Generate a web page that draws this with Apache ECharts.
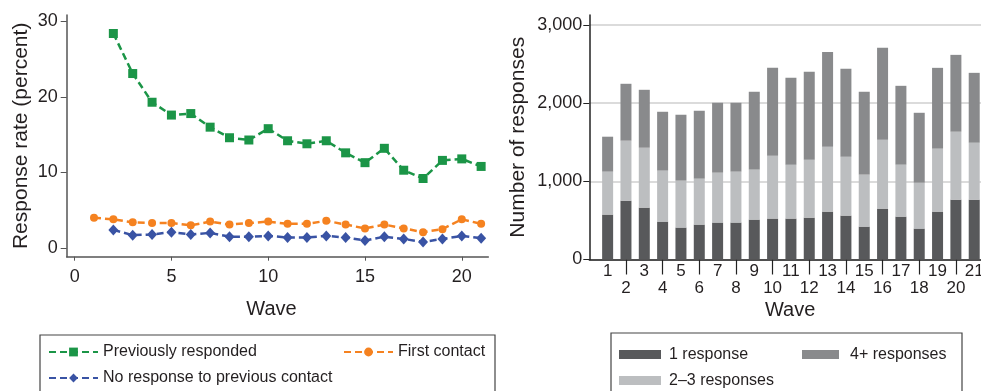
<!DOCTYPE html>
<html><head><meta charset="utf-8">
<script src="https://cdn.jsdelivr.net/npm/echarts@6/dist/echarts.min.js"></script>
<style>html,body{margin:0;padding:0;background:#fff}#c{width:981px;height:391px}</style>
</head><body><div id="c"></div>
<script>
// ---- data ----
const waves = [1,2,3,4,5,6,7,8,9,10,11,12,13,14,15,16,17,18,19,20,21];
const previouslyResponded = [null,28.4,23.1,19.3,17.6,17.8,16.0,14.6,14.3,15.8,14.2,13.8,14.2,12.6,11.3,13.2,10.3,9.2,11.6,11.8,10.8];
const firstContact = [4.0,3.8,3.4,3.3,3.3,3.0,3.5,3.1,3.3,3.5,3.2,3.2,3.6,3.1,2.6,3.1,2.6,2.1,2.5,3.8,3.2];
const noResponsePrev = [null,2.4,1.7,1.8,2.1,1.8,2.0,1.5,1.5,1.6,1.4,1.4,1.6,1.4,1.0,1.5,1.2,0.8,1.2,1.6,1.3];
const oneResponse = [575,753,664,485,409,447,473,473,511,524,524,536,613,562,421,651,549,396,613,766,766];
const twoThreeResponses = [549,767,766,652,600,587,638,651,639,804,689,741,830,753,665,882,664,587,805,869,728];
const fourPlusResponses = [447,728,741,753,843,869,894,881,996,1124,1111,1124,1213,1124,1060,1175,1009,894,1034,983,894];
const leftYTicks = [0,10,20,30];
const leftXTicks = [0,5,10,15,20];
const rightYTicks = [0,1000,2000,3000];
const oddWaveLabels = [1,3,5,7,9,11,13,15,17,19,21];
const evenWaveLabels = [2,4,6,8,10,12,14,16,18,20];

const FONT = 'Liberation Sans, Arial, Helvetica, sans-serif';
const TXT = '#231f20';
const pairs = arr => waves.map((w,i)=>[w,arr[i]]).filter(p=>p[1]!=null);
const pairsYX = arr => waves.map((w,i)=>[arr[i],w]);

const chart = echarts.init(document.getElementById('c'), null, {renderer:'canvas'});

const lineSeries = (name, arr, color, symbol, size) => ({
  name, type:'line', xAxisIndex:0, yAxisIndex:0, data: pairs(arr),
  symbol, symbolSize: size, showSymbol:true,
  lineStyle:{color, width:2.5, type:[7,4]},
  itemStyle:{color},
  emphasis:{disabled:true}, animation:false, z:3
});
const barSeries = (name, arr, color) => ({
  name, type:'bar', xAxisIndex:1, yAxisIndex:1, stack:'total', data: pairsYX(arr),
  encode:{x:1, y:0},
  barWidth:11, itemStyle:{color}, emphasis:{disabled:true}, animation:false
});

const legendBase = {padding:0, itemGap:0, selectedMode:false,
  textStyle:{fontFamily:FONT, fontSize:16, color:TXT}};

chart.setOption({
  animation:false,
  textStyle:{fontFamily:FONT},
  grid:[
    {left:66.7, right:981-488.3, top:15, bottom:391-256.7, containLabel:false, outerBoundsMode:'none'},
    {left:589.3, right:0, top:15, bottom:391-259.5, containLabel:false, outerBoundsMode:'none'}
  ],
  xAxis:[
    {type:'value', gridIndex:0, min:-0.41, max:21.37,
     name:'Wave', nameLocation:'middle', nameGap:43,
     nameTextStyle:{fontFamily:FONT, fontSize:20, color:TXT, padding:[0,12,0,0]},
     axisLine:{show:true, onZero:false, lineStyle:{color:'#555', width:1.5}},
     axisTick:{show:true, length:4, customValues:leftXTicks, lineStyle:{color:'#555'}},
     axisLabel:{customValues:leftXTicks, margin:11, fontSize:18, color:TXT, fontFamily:FONT},
     splitLine:{show:false}},
    {type:'value', gridIndex:1, position:'bottom', min:0, max:21.37,
     name:'Wave', nameLocation:'middle', nameGap:41,
     nameTextStyle:{fontFamily:FONT, fontSize:20, color:TXT, padding:[0,0,0,10]},
     axisLine:{show:true, onZero:false, lineStyle:{color:'#222', width:1.5}},
     axisTick:{show:true, length:15, customValues:evenWaveLabels, lineStyle:{color:'#222', width:1.2}},
     axisLabel:{customValues:oddWaveLabels, margin:3, fontSize:17, color:TXT, fontFamily:FONT,
       showMaxLabel:true, showMinLabel:true},
     splitLine:{show:false}},
    {type:'value', gridIndex:1, position:'bottom', offset:0, min:0, max:21.37,
     axisLine:{show:false, onZero:false}, axisTick:{show:false},
     axisLabel:{customValues:evenWaveLabels, margin:20, fontSize:17, color:TXT, fontFamily:FONT,
       showMaxLabel:true, showMinLabel:true},
     splitLine:{show:false}}
  ],
  yAxis:[
    {type:'value', gridIndex:0, min:-1.15, max:30.85,
     name:'Response rate (percent)', nameLocation:'middle', nameGap:35,
     nameTextStyle:{fontFamily:FONT, fontSize:21, color:TXT},
     axisLine:{show:true, onZero:false, lineStyle:{color:'#555', width:1.5}},
     axisTick:{show:true, length:6, customValues:leftYTicks, lineStyle:{color:'#555'}},
     axisLabel:{customValues:leftYTicks, margin:9, fontSize:18, color:TXT, fontFamily:FONT},
     splitLine:{show:false}},
    {type:'value', gridIndex:1, min:0, max:3128,
     name:'Number of responses', nameLocation:'middle', nameGap:61,
     nameTextStyle:{fontFamily:FONT, fontSize:21, color:TXT},
     axisLine:{show:true, lineStyle:{color:'#222', width:1.5}},
     axisTick:{show:true, length:6, customValues:rightYTicks, lineStyle:{color:'#222'}},
     axisLabel:{customValues:rightYTicks, margin:7, fontSize:18, color:TXT, fontFamily:FONT,
       formatter: v => v.toLocaleString('en-US')},
     splitLine:{show:true, lineStyle:{color:'#cfcfcf', width:1.5}}}
  ],
  legend:[
    Object.assign({}, legendBase, {left:48, top:344, itemWidth:49, itemHeight:11, data:['Previously responded']}),
    Object.assign({}, legendBase, {left:343, top:344, itemWidth:49, itemHeight:11, data:['First contact']}),
    Object.assign({}, legendBase, {left:48, top:370, itemWidth:49, itemHeight:11, data:['No response to previous contact']}),
    Object.assign({}, legendBase, {left:619, top:346.5, itemWidth:42, itemHeight:9, icon:'rect', data:['1 response'],
      textStyle:Object.assign({}, legendBase.textStyle, {padding:[0,0,0,3]})}),
    Object.assign({}, legendBase, {left:802, top:346.5, itemWidth:37, itemHeight:9, icon:'rect', data:['4+ responses'],
      textStyle:Object.assign({}, legendBase.textStyle, {padding:[0,0,0,6]})}),
    Object.assign({}, legendBase, {left:619, top:372.5, itemWidth:42, itemHeight:9, icon:'rect', data:['2–3 responses'],
      textStyle:Object.assign({}, legendBase.textStyle, {padding:[0,0,0,3]})})
  ],
  graphic:[
    {type:'rect', shape:{x:40, y:335, width:455, height:80}, style:{fill:'none', stroke:'#444', lineWidth:1.2}, silent:true},
    {type:'rect', shape:{x:611, y:333, width:351, height:80}, style:{fill:'none', stroke:'#444', lineWidth:1.2}, silent:true}
  ],
  series:[
    lineSeries('Previously responded', previouslyResponded, '#1b9547', 'rect', 9),
    lineSeries('First contact', firstContact, '#f58220', 'circle', 8),
    lineSeries('No response to previous contact', noResponsePrev, '#3953a4', 'diamond', [10,11]),
    barSeries('1 response', oneResponse, '#58595b'),
    barSeries('2–3 responses', twoThreeResponses, '#bcbec0'),
    barSeries('4+ responses', fourPlusResponses, '#898a8c')
  ]
});
</script></body></html>
